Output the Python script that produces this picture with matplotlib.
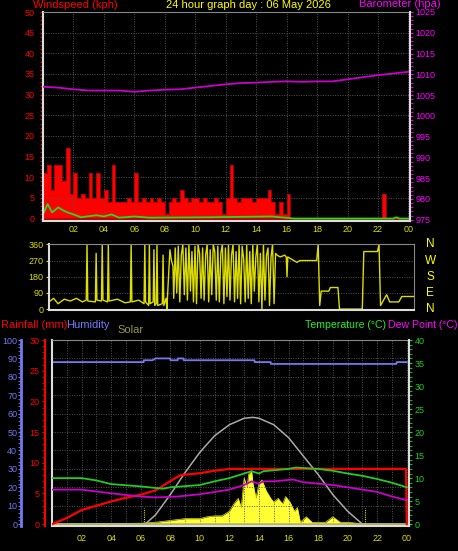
import matplotlib
matplotlib.use("Agg")
import matplotlib.pyplot as plt
import numpy as np
from matplotlib import font_manager

names = {f.name for f in font_manager.fontManager.ttflist}
FONT = "Liberation Sans Narrow" if "Liberation Sans Narrow" in names else "Liberation Sans"
plt.rcParams["font.family"] = [FONT, "DejaVu Sans"]

W, H = 458, 551
# ---------------- data ----------------
gust_t = [i * 0.25 for i in range(96)]
gust_v = [11,13,7,13, 13,9,17,6, 11,5,6,5, 11,5,11,5, 7,4,13,4, 4,4,5,4,
          11,4,5,4, 5,4,5,4, 1,4,5,4, 7,5,4,5, 5,4,5,4, 4,5,4,1,
          5,13,5,4, 5,5,5,4, 5,5,5,7, 4,1,4,1, 6,0,0,0, 0,0,0,0,
          0,0,0,0, 0,0,0,0, 0,0,0,0, 0,0,0,0, 0,6,0,0, 0,0,0,0]
avg_t = [0, 0.3, 0.6, 1.0, 1.3, 1.6, 2.0, 2.5, 3.5, 4.0, 4.5, 5.0, 6.0, 7.0, 11.0, 15.0, 16.5, 23.0, 23.2, 23.4, 24]
avg_v = [1, 3.5, 1.5, 2.7, 2.0, 1.5, 1.0, 0.3, 0.8, 0.5, 1.0, 0.2, 0.5, 0.2, 0.3, 0.5, 0.0, 0.0, 0.3, 0.0, 0.0]
baro_t = [0, 1, 2, 3, 4, 5, 6, 7, 8, 9, 10, 11, 12, 13, 14, 15, 16, 17, 18, 19, 20, 21, 22, 23, 24]
baro_v = [1007, 1006.8, 1006.4, 1006.1, 1006.1, 1006.1, 1005.8, 1006.1, 1006.3, 1006.4, 1006.8, 1007.2,
          1007.6, 1007.9, 1008.0, 1008.2, 1008.3, 1008.2, 1008.3, 1008.3, 1008.8, 1009.3, 1009.8, 1010.2, 1010.6]

dir_t = [0, 0.3, 0.6, 1.0, 1.4, 1.8, 2.2, 2.45, 2.5, 2.55, 3.05, 3.1, 3.15, 3.45, 3.5, 3.55, 3.85, 3.9, 3.95,
         4.5, 5.0, 5.35, 5.4, 5.45, 5.9, 6.25, 6.3, 6.35, 6.55, 6.6, 6.65, 6.85, 6.9, 6.95, 7.05, 7.1, 7.15,
         7.45, 7.5, 7.55, 7.7, 7.75, 7.95, 8.05, 8.15]
dir_v = [40, 60, 30, 55, 45, 60, 40, 50, 360, 45, 40, 310, 50, 45, 360, 50, 40, 360, 45,
         55, 35, 40, 360, 40, 50, 30, 360, 40, 20, 360, 30, 40, 330, 20, 30, 360, 20,
         30, 300, 20, 60, 0, 330, 270, 240]
dir_t2 = [8.2 + 0.1 * i for i in range(68)]
dir_v2 = [60, 340, 90, 350, 40, 300, 360, 80, 340, 50, 360, 100, 320, 40, 350, 30, 360, 310, 60, 340,
          50, 300, 360, 40, 330, 80, 360, 320, 50, 350, 40, 310, 360, 30, 340, 70, 360, 50, 300, 360,
          40, 320, 60, 360, 30, 350, 280, 40, 360, 60, 320, 30, 360, 100, 290, 360, 40, 310, 0, 360,
          50, 300, 340, 20, 290, 360, 30, 310]
dir_t3 = [15.0, 15.2, 15.5, 15.6, 15.65, 15.7, 15.9, 16.3, 16.5, 17.6, 17.7, 17.8, 17.9, 18.4, 18.5, 19.0, 19.1,
          20.6, 20.7, 21.6, 21.7, 21.8, 22.2, 22.4, 23.0, 23.2, 24]
dir_v3 = [300, 290, 300, 290, 180, 290, 280, 260, 270, 270, 360, 20, 100, 100, 120, 120, 0,
          0, 320, 320, 360, 20, 80, 40, 40, 70, 70]

hum_t = [0, 6.2, 6.21, 6.8, 7.0, 8.0, 8.01, 8.5, 8.51, 8.9, 8.91, 13.7, 13.71, 14.8, 14.81, 23.3, 23.31, 24]
hum_v = [88, 88, 89, 89, 90, 90, 89, 89, 90, 90, 89, 89, 88, 88, 87, 87, 88, 88]
rain_t = [0, 1, 2, 3, 4, 5, 6, 7, 8, 8.7, 10, 11, 12, 23.95, 24]
rain_v = [0, 1.0, 2.3, 3.0, 3.7, 4.3, 4.8, 5.5, 7.0, 8.0, 8.3, 8.7, 9.0, 9.0, 0]
temp_t = [0, 2, 3, 4, 6, 7.5, 8, 10, 11, 12, 13, 13.5, 14, 14.3, 15, 16, 16.5, 18, 19, 20, 21, 22, 23, 24]
temp_v = [10, 10, 9.5, 8.7, 8.2, 7.7, 8.0, 8.5, 9.3, 10, 11, 11.5, 11, 11.5, 11.7, 12, 12.3, 12, 11.6, 11, 10.5, 9.8, 9, 8]
dew_t = [0, 2, 4, 6, 7, 8.5, 10, 11, 12, 13, 13.5, 14, 14.3, 15, 16.3, 17, 18, 19, 20, 21, 22, 23, 24]
dew_v = [7.5, 7.5, 6.7, 6.0, 5.8, 6.0, 6.5, 7.0, 7.5, 8.5, 9.3, 8.8, 9.3, 9.3, 9.7, 9.1, 8.8, 8.5, 8.0, 7.5, 7.0, 6.0, 5.2]
sun_t = [6.3, 7, 8, 9, 10, 11, 12, 13, 13.6, 14, 15, 16, 17, 18, 19, 20, 21]
sun_v = [0, 5, 16, 28, 39, 48, 54, 57.5, 58, 57.5, 54, 47, 37, 27, 16, 7, 0]
sol_t = [0, 6, 7, 8, 9, 10, 10.5, 11, 11.5, 12, 12.3, 12.6, 12.8, 13, 13.2, 13.3, 13.5, 13.6, 13.8, 14, 14.2,
         14.5, 14.8, 15, 15.3, 15.6, 15.8, 16.1, 16.4, 16.6, 16.8, 17.2, 17.6, 18, 18.5, 19, 19.5, 20, 21, 24]
sol_v = [0, 0.5, 1, 2, 3, 3, 4, 4.5, 4.5, 7, 11, 14, 9, 25, 20, 27, 29, 22, 14, 22, 24,
         18, 14, 12, 14, 11, 15, 12, 7, 9, 1, 4, 1, 1, 1, 4, 1, 1, 0.2, 0]
hour_ticks = list(range(2, 25, 2))
hour_labels = ["02", "04", "06", "08", "10", "12", "14", "16", "18", "20", "22", "00"]

# ---------------- figure ----------------
fig = plt.figure(figsize=(W / 100, H / 100), dpi=100, facecolor="black")
FS = 6.5
GRID = dict(color="#555555", linestyle=(0, (1, 1.5)), linewidth=0.7)

def box(l, t, r, b):
    return [l / W, 1 - b / H, (r - l) / W, (b - t) / H]

def style(ax):
    ax.set_facecolor("black")
    for s in ax.spines.values():
        s.set_color("#888888")
    ax.spines["left"].set_color("#dddddd"); ax.spines["left"].set_linewidth(1.5)
    ax.spines["bottom"].set_color("#dddddd"); ax.spines["bottom"].set_linewidth(1.5)

# ---- panel 1: wind speed / barometer
ax1 = fig.add_axes(box(43, 12, 410, 221))
style(ax1)
ax1.set_xlim(0, 24.1); ax1.set_ylim(-0.6, 50)
ax1.fill_between(gust_t, 0, gust_v, step="post", color="#ff0000", linewidth=0)
ax1.step(gust_t, gust_v, where="post", color="#b00000", linewidth=0.6)
ax1.plot([0, 24], [0, 0], color="#c00000", linewidth=1.2)
ax1.plot(avg_t, avg_v, color="#22dd22", linewidth=1.3)
ax1.set_yticks(range(0, 51, 5))
ax1.set_yticks(range(0, 51, 1), minor=True)
ax1.set_xticks(hour_ticks); ax1.set_xticklabels(hour_labels)
ax1.tick_params(axis="y", which="both", colors="#ff0000", labelsize=FS, length=2, pad=4)
ax1.tick_params(axis="x", colors="#dddd00", labelsize=FS, length=0, pad=3)
ax1.grid(True, **GRID)
ax1b = ax1.twinx()
ax1b.set_ylim(974.7, 1025)
ax1b.plot(baro_t, baro_v, color="#cc00cc", linewidth=1.3)
ax1b.set_yticks(range(975, 1026, 5))
ax1b.set_yticks(range(975, 1026, 1), minor=True)
ax1b.tick_params(axis="y", which="both", colors="#ff00ff", labelsize=FS, length=2, pad=2)
ax1b.spines["right"].set_color("#dddddd"); ax1b.spines["right"].set_linewidth(1.5)
for s in ["left", "top", "bottom"]:
    ax1b.spines[s].set_visible(False)

# ---- panel 2: wind direction
ax2 = fig.add_axes(box(49, 244, 414, 310))
style(ax2)
ax2.set_xlim(0, 24); ax2.set_ylim(-5, 362)
ax2.plot(dir_t + dir_t2 + dir_t3, dir_v + dir_v2 + dir_v3, color="#dddd00", linewidth=1.0)
ax2.set_yticks([0, 90, 180, 270, 360])
ax2.set_xticks([])
ax2.tick_params(axis="y", colors="#dddd00", labelsize=FS, length=2, pad=2)
ax2.grid(True, axis="y", **GRID)
for lab, yy in zip(["N", "W", "S", "E", "N"], [360, 270, 180, 90, 0]):
    ax2.text(1.045, (yy + 5) / 367, lab, transform=ax2.transAxes, color="#ffff00",
             fontsize=8.5, ha="center", va="center")

# ---- panel 3: temperature etc
ax3 = fig.add_axes(box(52, 340, 409, 526))
style(ax3)
ax3.set_xlim(0, 24.15); ax3.set_ylim(-1, 100)
ax3.grid(True, **GRID)
ax3.set_xticks(range(1, 25), minor=True)
ax3.grid(True, which="minor", axis="x", **GRID)
ax3.fill_between(sol_t, 0, sol_v, color="#ffff33", linewidth=0)
ax3.plot(sol_t, sol_v, color="#eeee00", linewidth=0.5)
ax3.plot([0, 24], [0, 0], color="#bbbb66", linewidth=1.2)
ax3.vlines([6.2, 21.2], 0, 9, colors="#dddd00", linestyles=(0, (1, 1)), linewidth=0.8)
ax3.plot(sun_t, sun_v, color="#aaaaaa", linewidth=1.1)
ax3.plot(hum_t, hum_v, color="#7777ee", linewidth=1.3)
ax3.set_yticks(range(0, 101, 10))
ax3.set_xticks(hour_ticks); ax3.set_xticklabels(hour_labels)
ax3.tick_params(axis="x", which="both", colors="#dddd00", labelsize=FS, length=0, pad=6)
ax3.tick_params(axis="y", left=False, labelleft=False)

axr = ax3.twinx()  # rain axis
axr.set_ylim(-0.3, 30)
axr.plot(rain_t, rain_v, color="#ff0000", linewidth=1.6)
axr.yaxis.set_ticks_position("left")
axr.set_yticks(range(0, 31, 5))
axr.set_yticks(np.arange(0, 30.1, 1), minor=True)
axr.tick_params(axis="y", which="both", colors="#ff0000", labelsize=FS, length=2, pad=2)
axr.spines["left"].set_position(("outward", 5)); axr.spines["left"].set_color("#ff0000")
axr.spines["left"].set_linewidth(1.5)
for s in ["right", "top", "bottom"]:
    axr.spines[s].set_visible(False)

axh = ax3.twinx()  # humidity axis
axh.set_ylim(-1, 100)
axh.yaxis.set_ticks_position("left")
axh.set_yticks(range(0, 101, 10))
axh.set_yticks(range(0, 101, 2), minor=True)
axh.tick_params(axis="y", which="both", colors="#7777ee", labelsize=FS, length=2, pad=1)
axh.spines["left"].set_position(("outward", 22))
axh.spines["left"].set_color("#7777ee"); axh.spines["left"].set_linewidth(2)
for s in ["right", "top", "bottom"]:
    axh.spines[s].set_visible(False)

axt = ax3.twinx()
axt.set_ylim(-0.4, 40)
axt.plot(temp_t, temp_v, color="#22cc22", linewidth=1.3)
axt.plot(dew_t, dew_v, color="#cc00cc", linewidth=1.3)
axt.set_yticks(range(0, 41, 5))
axt.set_yticks(range(0, 41, 1), minor=True)
axt.tick_params(axis="y", which="both", colors="#22cc22", labelsize=FS, length=2, pad=2)
axt.spines["right"].set_color("#dddddd"); axt.spines["right"].set_linewidth(1.5)
for s in ["left", "top", "bottom"]:
    axt.spines[s].set_visible(False)

# ---- titles
TF = 8
fig.text(33 / W, 1 - 5 / H, "Windspeed (kph)", color="#ff0000", fontsize=TF, va="center")
fig.text(248 / W, 1 - 5 / H, "24 hour graph day : 06 May 2026", color="#ffff00", fontsize=TF, va="center", ha="center")
fig.text(441 / W, 1 - 4 / H, "Barometer (hpa)", color="#ff00ff", fontsize=TF, va="center", ha="right")
fig.text(1 / W, 1 - 325 / H, "Rainfall (mm)", color="#ff0000", fontsize=TF, va="center")
fig.text(66 / W, 1 - 325 / H, "Humidity", color="#7777ff", fontsize=TF, va="center")
fig.text(117 / W, 1 - 330 / H, "Solar", color="#999944", fontsize=TF, va="center")
fig.text(305 / W, 1 - 325 / H, "Temperature (°C)", color="#22ee22", fontsize=7.6, va="center")
fig.text(457 / W, 1 - 325 / H, "Dew Point (°C)", color="#ff00ff", fontsize=7.6, va="center", ha="right")

fig.savefig("out.png", dpi=100, facecolor="black")
